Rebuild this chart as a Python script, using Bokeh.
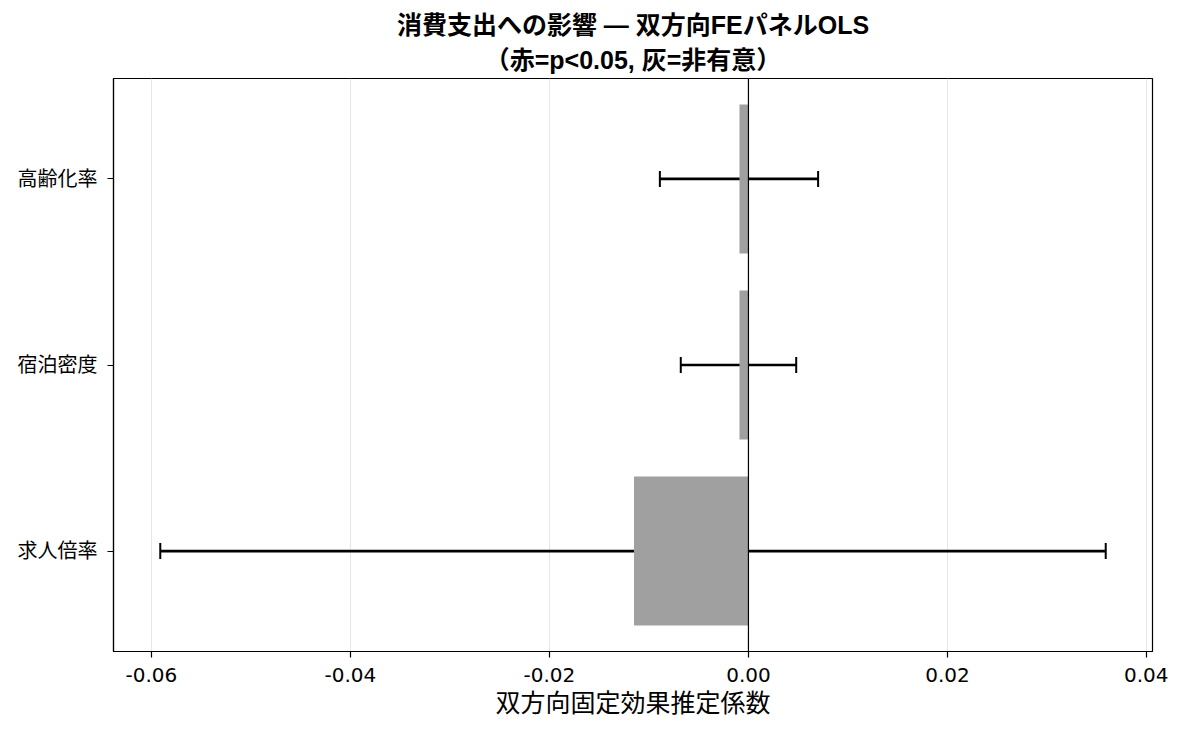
from bokeh.plotting import figure
from bokeh.models import (ColumnDataSource, Whisker, TeeHead, Span, FixedTicker,
                          NumeralTickFormatter, Title, Range1d)
from bokeh.embed import file_html
from bokeh.resources import INLINE

categories = ["求人倍率", "宿泊密度", "高齢化率"]
coef = [-0.0115, -0.0009, -0.0009]
ci_low = [-0.0591, -0.0068, -0.0089]
ci_high = [0.0359, 0.0048, 0.0070]
bar_colors = ["#a0a0a0", "#a0a0a0", "#a0a0a0"]
x_ticks = [-0.06, -0.04, -0.02, 0.00, 0.02, 0.04]
title_line1 = "消費支出への影響 — 双方向FEパネルOLS"
title_line2 = "（赤=p<0.05, 灰=非有意）"

FONT = "'Liberation Sans', 'Noto Sans CJK JP', sans-serif"
TICKFONT = "'DejaVu Sans', 'Noto Sans CJK JP', sans-serif"

ypos = list(range(len(categories)))
src = ColumnDataSource(dict(y=ypos, coef=coef, lo=ci_low, hi=ci_high,
                            color=bar_colors, zero=[0.0] * len(ypos)))

p = figure(width=1168, height=719, output_backend="svg", toolbar_location=None,
           x_range=Range1d(-0.0638, 0.0406), y_range=Range1d(-0.54, 2.54),
           min_border_left=113, min_border_right=16, min_border_top=78,
           min_border_bottom=67)

p.hbar(y="y", left="zero", right="coef", height=0.8, fill_color="color",
       line_color=None, source=src)

w = Whisker(source=src, base="y", lower="lo", upper="hi", dimension="width",
            line_color="black", line_width=2.7,
            lower_head=TeeHead(size=16, line_color="black", line_width=2),
            upper_head=TeeHead(size=16, line_color="black", line_width=2))
p.add_layout(w)

p.add_layout(Span(location=0, dimension="height", line_color="black", line_width=1.2))

t2 = Title(text=title_line2, align="center", text_font=FONT, text_font_size="25px",
           text_font_style="bold", text_color="black", text_line_height=0.8,
           standoff=10)
t1 = Title(text=title_line1, align="center", text_font=FONT, text_font_size="25px",
           text_font_style="bold", text_color="black", standoff=0)
p.title.visible = False
p.add_layout(t2, "above")
p.add_layout(t1, "above")

p.xaxis.ticker = FixedTicker(ticks=x_ticks)
p.xaxis.formatter = NumeralTickFormatter(format="0.00")
p.yaxis.ticker = FixedTicker(ticks=ypos)
p.yaxis.major_label_overrides = {i: c for i, c in enumerate(categories)}

for ax in (p.xaxis, p.yaxis):
    ax.major_label_text_font_size = "20px"
    ax.major_label_text_color = "black"
    ax.axis_line_color = "black"
    ax.axis_line_width = 1.2
    ax.major_tick_line_color = "black"
    ax.major_tick_line_width = 1.2
    ax.major_tick_out = 6
    ax.major_tick_in = 0
    ax.minor_tick_line_color = None
p.xaxis.major_label_text_font = TICKFONT
p.yaxis.major_label_text_font = FONT
p.xaxis.major_label_standoff = 10
p.yaxis.major_label_standoff = 10

p.xaxis.axis_label = "双方向固定効果推定係数"
p.xaxis.axis_label_text_font = FONT
p.xaxis.axis_label_text_font_size = "25px"
p.xaxis.axis_label_text_font_style = "normal"
p.xaxis.axis_label_text_color = "black"
p.xaxis.axis_label_standoff = 4

p.xgrid.grid_line_color = "#e6e6e6"
p.xgrid.grid_line_width = 1
p.ygrid.grid_line_color = None

p.outline_line_color = "black"
p.outline_line_width = 1.2
p.background_fill_color = "white"
p.border_fill_color = "white"

open("out.html", "w").write(file_html(p, INLINE))
